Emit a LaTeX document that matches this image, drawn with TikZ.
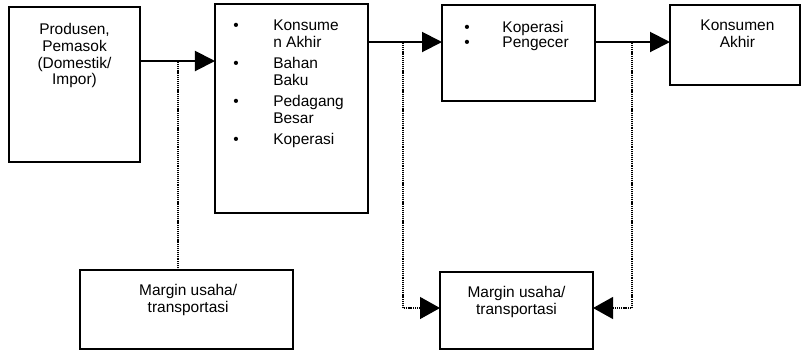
\documentclass[tikz,border=0pt]{standalone}
\usepackage{fontspec}
\setmainfont{Liberation Sans}
\usetikzlibrary{arrows.meta,positioning}

\tikzset{
  box/.style={draw,line width=1.3pt,inner sep=0pt,outer sep=0pt,anchor=north west},
  lbl/.style={inner sep=0pt,anchor=north,font=\fontsize{11}{12}\selectfont},
  lst/.style={inner sep=0pt,anchor=north west,font=\fontsize{11}{12}\selectfont},
  flow/.style={line width=1.4pt,-{Triangle[length=0.5cm,width=0.5cm]}},
  tap/.style={line width=0.9pt,dash pattern=on 0.75pt off 0.6pt},
  tapto/.style={tap,-{Triangle[length=0.5cm,width=0.55cm]}}
}

\begin{document}
\begin{tikzpicture}[x=0.025cm,y=-0.025cm]
                \useasboundingbox (0,0) rectangle (801,351);
                % kotak-kotak
                \node[box,minimum width=3.275cm,minimum height=3.875cm](prod)at(9,7){};
                \node[box,minimum width=3.825cm,minimum height=5.225cm](dist)at(215,4){};
                \node[box,minimum width=3.825cm,minimum height=2.4cm](ecer)at(442,5){};
                \node[box,minimum width=3.25cm,minimum height=2cm](kons)at(670,5){};
                \node[box,minimum width=5.325cm,minimum height=1.975cm](marga)at(80,270){};
                \node[box,minimum width=3.825cm,minimum height=1.925cm](margb)at(440,272){};
                % teks
                \node[lbl,below=0.38cm of prod.north](tprod){\begin{tabular}{@{}c@{}}Produsen,\\Pemasok\\(Domestik/\\Impor)\end{tabular}};
                \node[lst,below right=0.355cm and 0.45cm of dist.north west](tdist){\begin{tabular}{@{}p{1cm}@{}l@{}}
                  • & Konsume\\ & n Akhir\\[3pt]
                  • & Bahan\\ & Baku\\[3pt]
                  • & Pedagang\\ & Besar\\[3pt]
                  • & Koperasi\end{tabular}};
                \node[lst,below right=0.38cm and 0.555cm of ecer.north west](tecer){\begin{tabular}{@{}p{0.95cm}@{}l@{}}
                  • & Koperasi\\[-1pt]
                  • & Pengecer\end{tabular}};
                \node[lbl,below=0.33cm of kons.north,xshift=0.06cm](tkons){\begin{tabular}{@{}c@{}}Konsumen\\Akhir\end{tabular}};
                \node[lbl,below=0.33cm of marga.north,xshift=0.04cm](tmarga){\begin{tabular}{@{}c@{}}Margin usaha/\\transportasi\end{tabular}};
                \node[lbl,below=0.33cm of margb.north](tmargb){\begin{tabular}{@{}c@{}}Margin usaha/\\transportasi\end{tabular}};
                % alur barang
                \coordinate(r1)at(0,61);
                \coordinate(r2)at(0,42);
                \coordinate(r3)at(0,308);
                \draw[flow](prod.east|-r1)--(dist.west|-r1);
                \draw[flow](dist.east|-r2)--(ecer.west|-r2);
                \draw[flow](ecer.east|-r2)--(kons.west|-r2);
                % margin
                \coordinate(ta)at(178,62);
                \coordinate(tb)at(403,43);
                \coordinate(tc)at(632,43);
                \draw[tap](ta)--(ta|-marga.north);
                \draw[tapto](tb)--(tb|-r3)--(margb.west|-r3);
                \draw[tapto](tc)--(tc|-r3)--(margb.east|-r3);
            \end{tikzpicture}
\end{document}
